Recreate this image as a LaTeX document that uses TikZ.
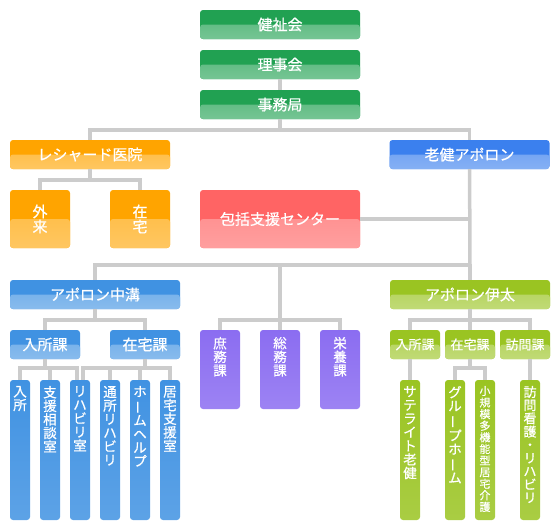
\documentclass[tikz,border=0pt]{standalone}
\usepackage{fontspec}
\setmainfont{Noto Sans CJK JP}[FakeBold=0.6]
\usetikzlibrary{positioning,calc}
\definecolor{linegray}{HTML}{CCCCCC}
\definecolor{kgreen}{HTML}{21A152}
\definecolor{korange}{HTML}{FFA400}
\definecolor{kblue}{HTML}{3B80EE}
\definecolor{kblueb}{HTML}{4092E2}
\definecolor{kred}{HTML}{FF6464}
\definecolor{kpurple}{HTML}{8B6DF1}
\definecolor{klime}{HTML}{9AC422}
\newcommand{\vbar}{\rotatebox[origin=c]{90}{ー}}
\tikzset{
  link/.style={draw=linegray, line width=3.5pt},
  box/.style={rounded corners=3pt, fill=#1, text=white, inner sep=0pt,
    path picture={\shade[top color=#1!78!white, bottom color=#1!62!white]
      (path picture bounding box.west) rectangle (path picture bounding box.south east);}},
  tallbox/.style={rounded corners=3pt, inner sep=0pt, minimum width=20pt, minimum height=140pt,
    top color=#1, bottom color=#1!85!white},
  vlabel/.style={text=white, align=center, inner sep=0pt, anchor=north,
    font=\fontsize{13.5}{13.6}\selectfont},
  big/.style={font=\fontsize{15}{16}\selectfont},
}
\begin{document}
\begin{tikzpicture}[x=1pt,y=-1pt]
\useasboundingbox (0,0) rectangle (560,530);
% top
\node[box=kgreen, big, minimum width=160pt, minimum height=29pt] (kenshi) at (280,24.5) {健祉会};
\node[box=kgreen, big, minimum width=160pt, minimum height=29pt] (riji) at (280,64.5) {理事会};
\node[box=kgreen, big, minimum width=160pt, minimum height=29pt] (jimu) at (280,104.5) {事務局};
\node[box=korange, big, minimum width=160pt, minimum height=29pt] (resh) at (90,154.5) {レシャード医院};
\node[box=kblue, big, minimum width=160pt, minimum height=29pt] (roken) at (469.5,154.5) {老健アポロン};
% clinic
\node[box=korange, align=center, font=\fontsize{15}{15}\selectfont, minimum width=60pt, minimum height=58pt] (gairai) at (40,219) {外\\来};
\node[box=korange, align=center, font=\fontsize{15}{15}\selectfont, minimum width=60pt, minimum height=58pt] (zaitaku) at (140,219) {在\\宅};
\node[box=kred, big, minimum width=160pt, minimum height=58pt] (hokatsu) at (280,219) {包括支援センター};
% second level
\node[box=kblueb, big, minimum width=170pt, minimum height=29pt] (naka) at (95,294.5) {アポロン中溝};
\node[box=klime, big, minimum width=160pt, minimum height=29pt] (ita) at (470,294.5) {アポロン伊太};
\node[box=kblueb, big, minimum width=70pt, minimum height=29pt] (nyuL) at (45,344.5) {入所課};
\node[box=kblueb, big, minimum width=70pt, minimum height=29pt] (zaiL) at (145,344.5) {在宅課};
\node[box=klime, font=\fontsize{13}{14}\selectfont, minimum width=50pt, minimum height=29pt] (nyuR) at (415,344.5) {入所課};
\node[box=klime, font=\fontsize{13}{14}\selectfont, minimum width=50pt, minimum height=29pt] (zaiR) at (470,344.5) {在宅課};
\node[box=klime, font=\fontsize{13}{14}\selectfont, minimum width=50pt, minimum height=29pt] (homon) at (525,344.5) {訪問課};
% purple
\node[tallbox=kpurple, minimum width=40pt, minimum height=79pt] (shomu) at (220,369.5) {};
\node[tallbox=kpurple, minimum width=40pt, minimum height=79pt] (somu) at (280,369.5) {};
\node[tallbox=kpurple, minimum width=40pt, minimum height=79pt] (eiyo) at (340,369.5) {};
\node[vlabel] (shomu-t) at ($(shomu.north)+(0,7)$) {庶\\務\\課};
\node[vlabel] (somu-t) at ($(somu.north)+(0,7)$) {総\\務\\課};
\node[vlabel] (eiyo-t) at ($(eiyo.north)+(0,7)$) {栄\\養\\課};
% tall boxes
\node[tallbox=kblueb] (nyusho) at (20,450) {};
\node[tallbox=kblueb] (shien) at (50,450) {};
\node[tallbox=kblueb] (riha) at (80,450) {};
\node[tallbox=kblueb] (tsusho) at (110,450) {};
\node[tallbox=kblueb] (home) at (140,450) {};
\node[tallbox=kblueb] (kyotaku) at (170,450) {};
\node[tallbox=klime] (sat) at (410,450) {};
\node[tallbox=klime] (group) at (455,450) {};
\node[tallbox=klime] (shokibo) at (485,450) {};
\node[tallbox=klime] (kango) at (530,450) {};
\node[vlabel] (nyusho-t) at ($(nyusho.north)+(0,6)$) {入\\所};
\node[vlabel] (shien-t) at ($(shien.north)+(0,6)$) {支\\援\\相\\談\\室};
\node[vlabel] (riha-t) at ($(riha.north)+(0,6)$) {リ\\ハ\\ビ\\リ\\室};
\node[vlabel] (tsusho-t) at ($(tsusho.north)+(0,6)$) {通\\所\\リ\\ハ\\ビ\\リ};
\node[vlabel] (home-t) at ($(home.north)+(0,6)$) {ホ\\\vbar\\ム\\ヘ\\ル\\プ};
\node[vlabel] (kyotaku-t) at ($(kyotaku.north)+(0,6)$) {居\\宅\\支\\援\\室};
\node[vlabel] (sat-t) at ($(sat.north)+(0,6)$) {サ\\テ\\ラ\\イ\\ト\\老\\健};
\node[vlabel] (group-t) at ($(group.north)+(0,6)$) {グ\\ル\\\vbar\\プ\\ホ\\\vbar\\ム};
\node[vlabel, font=\fontsize{11}{11.6}\selectfont] (shokibo-t) at ($(shokibo.north)+(0,6)$) {小\\規\\模\\多\\機\\能\\型\\居\\宅\\介\\護};
\node[vlabel, font=\fontsize{13}{13.2}\selectfont] (kango-t) at ($(kango.north)+(0,6)$) {訪\\問\\看\\護\\・\\リ\\ハ\\ビ\\リ};
% connectors
\coordinate (b1) at (280,130);
\coordinate (b2) at (90,180);
\coordinate (b3) at (470,265);
\coordinate (b4) at (95,320);
\coordinate (b5) at (280,320);
\coordinate (b6) at (470,320);
\draw[link] (riji) -- (jimu);
\draw[link] (jimu) -- (b1);
\draw[link] (b1) -| (resh.north);
\draw[link] (b1) -| (roken.north);
\draw[link] (resh) -- (b2);
\draw[link] (b2) -| (gairai.north);
\draw[link] (b2) -| (zaitaku.north);
\draw[link] (roken) -- (b3);
\draw[link] (hokatsu.east) -- (hokatsu.east -| b3);
\draw[link] (b3) -| (naka.north);
\draw[link] (b3) -- (ita.north);
\draw[link] (b3 -| b5) -- (b5);
\draw[link] (b5) -| (shomu.north);
\draw[link] (b5) -| (eiyo.north);
\draw[link] (b5) -- (somu.north);
\draw[link] (naka) -- (b4);
\draw[link] (b4) -| (nyuL.north);
\draw[link] (b4) -| (zaiL.north);
\draw[link] (ita) -- (b6);
\draw[link] (b6) -| (nyuR.north -| sat);
\draw[link] (b6) -| (homon.north -| kango);
\draw[link] (b6) -- (zaiR.north);
% lower buses
\draw[link] (nyuL) -- (nyuL |- 0,368);
\draw[link] (nyusho.north) |- ($(riha.north)+(-3,-12)$) -- ($(riha.north)+(-3,0)$);
\draw[link] (shien.north) -- (shien.north |- 0,368);
\draw[link] (zaiL) -- (zaiL |- 0,368);
\draw[link] ($(riha.north)+(3,0)$) -- ($(riha.north)+(3,-12)$) -| (kyotaku.north);
\draw[link] (tsusho.north) -- (tsusho.north |- 0,368);
\draw[link] (home.north) -- (home.north |- 0,368);
\draw[link] (sat.north) -- (sat.north |- nyuR.south);
\draw[link] (zaiR) -- (zaiR |- 0,368);
\draw[link] (group.north) |- (0,368 -| shokibo) -- (shokibo.north);
\draw[link] (kango.north) -- (kango.north |- homon.south);
\end{tikzpicture}
\end{document}
